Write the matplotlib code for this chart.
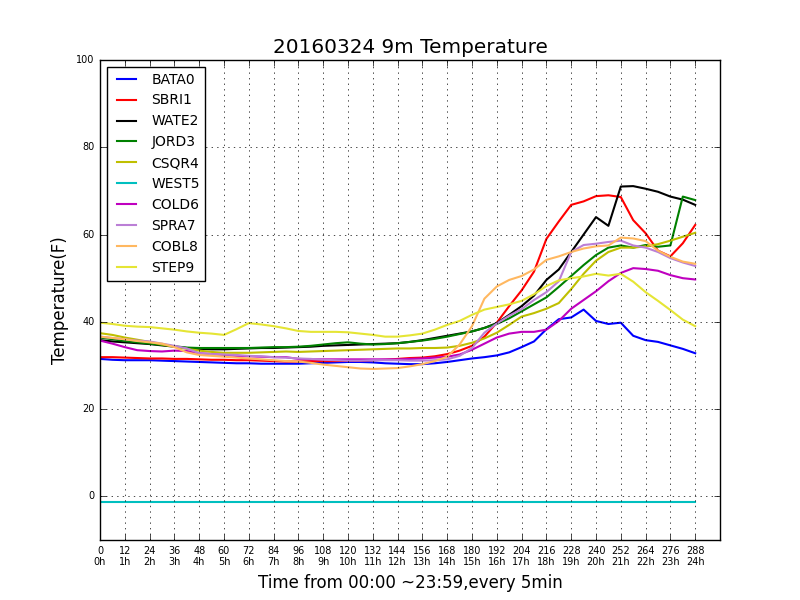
import matplotlib
matplotlib.use('Agg')
from matplotlib import pyplot as plt
import numpy as np

plt.style.use('classic')

# time index, every 30 min (6 x 5min samples)
t = np.arange(0, 289, 6)

bata0 = [31.5, 31.3, 31.2, 31.2, 31.2, 31.1, 31.0, 30.9, 30.8, 30.7, 30.6, 30.5, 30.5, 30.4, 30.4, 30.4, 30.4,
         30.5, 30.6, 30.7, 30.8, 30.8, 30.7, 30.5, 30.4, 30.3, 30.3, 30.5, 30.8, 31.2, 31.6, 31.9, 32.3,
         33.0, 34.2, 35.5, 38.3, 40.6, 41.0, 42.8, 40.2, 39.5, 39.8, 36.8, 35.8, 35.4, 34.6, 33.8, 32.8]
sbri1 = [31.9, 31.9, 31.8, 31.7, 31.6, 31.6, 31.5, 31.5, 31.4, 31.3, 31.3, 31.2, 31.2, 31.1, 31.0, 30.9, 30.9,
         31.0, 31.0, 31.0, 31.1, 31.1, 31.2, 31.3, 31.5, 31.7, 31.8, 32.1, 32.6, 33.4, 34.5, 36.6, 39.8,
         43.6, 47.2, 51.5, 59.0, 63.0, 66.8, 67.6, 68.8, 69.0, 68.6, 63.3, 60.3, 56.3, 55.0, 58.0, 62.2]
wate2 = [35.8, 35.5, 35.3, 35.1, 34.9, 34.6, 34.3, 34.0, 33.8, 33.7, 33.7, 33.8, 33.9, 34.0, 34.0, 34.1, 34.2,
         34.3, 34.5, 34.6, 34.7, 34.8, 34.9, 35.0, 35.1, 35.4, 35.8, 36.3, 36.8, 37.3, 37.8, 38.6, 39.7,
         41.6, 43.6, 46.0, 49.6, 52.0, 56.0, 60.0, 64.0, 62.0, 71.0, 71.1, 70.5, 69.8, 68.7, 68.0, 66.8]
jord3 = [36.4, 36.0, 35.6, 35.3, 35.0, 34.7, 34.4, 34.1, 34.0, 34.0, 34.0, 34.0, 34.0, 34.1, 34.2, 34.2, 34.3,
         34.5, 34.8, 35.1, 35.3, 35.0, 34.8, 34.9, 35.1, 35.4, 35.7, 36.1, 36.6, 37.2, 37.8, 38.6, 39.5,
         40.8, 42.4, 44.0, 45.6, 48.0, 50.5, 53.0, 55.3, 57.0, 57.5, 57.0, 57.6, 57.2, 57.5, 68.7, 67.9]
csqr4 = [37.4, 37.0, 36.4, 35.9, 35.4, 34.8, 34.3, 33.8, 33.4, 33.1, 32.9, 32.9, 32.9, 33.0, 33.1, 33.2, 33.1,
         33.2, 33.3, 33.4, 33.5, 33.6, 33.7, 33.8, 33.9, 33.9, 34.0, 34.0, 34.1, 34.5, 35.2, 36.2, 37.5,
         39.3, 41.2, 42.0, 43.0, 44.3, 47.5, 51.0, 54.0, 56.0, 57.0, 57.0, 57.3, 57.8, 58.6, 59.5, 60.4]
west5 = [-1.3, -1.3, -1.3, -1.3, -1.3, -1.3, -1.3, -1.3, -1.3, -1.3, -1.3, -1.3, -1.3, -1.3, -1.3, -1.3, -1.3,
         -1.3, -1.3, -1.3, -1.3, -1.3, -1.3, -1.3, -1.3, -1.3, -1.3, -1.3, -1.3, -1.3, -1.3, -1.3, -1.3,
         -1.3, -1.3, -1.3, -1.3, -1.3, -1.3, -1.3, -1.3, -1.3, -1.3, -1.3, -1.3, -1.3, -1.3, -1.3, -1.3]
cold6 = [35.7, 35.0, 34.2, 33.5, 33.3, 33.2, 33.4, 33.3, 32.8, 32.6, 32.4, 32.2, 32.1, 32.0, 31.9, 31.9, 31.5,
         31.4, 31.4, 31.4, 31.4, 31.4, 31.4, 31.4, 31.4, 31.5, 31.6, 31.8, 32.0, 32.5, 33.6, 35.0, 36.4,
         37.3, 37.7, 37.7, 38.2, 40.2, 43.0, 45.0, 47.0, 49.3, 51.2, 52.3, 52.1, 51.7, 50.7, 50.0, 49.7]
spra7 = [36.6, 36.3, 36.0, 35.7, 35.5, 35.0, 34.5, 33.9, 32.8, 32.6, 32.5, 32.4, 32.2, 32.1, 31.9, 31.8, 31.6,
         31.5, 31.3, 31.2, 31.1, 31.1, 31.2, 31.2, 31.2, 31.1, 31.1, 31.2, 31.4, 32.2, 34.0, 37.5, 39.6,
         41.4, 42.9, 45.0, 46.8, 49.3, 56.0, 57.6, 57.9, 58.3, 58.6, 57.5, 57.0, 56.0, 54.6, 53.6, 52.8]
cobl8 = [36.6, 36.3, 36.0, 35.6, 35.3, 35.0, 34.2, 33.0, 32.4, 32.2, 32.0, 31.8, 31.6, 31.4, 31.2, 31.0, 30.9,
         30.6, 30.2, 29.9, 29.6, 29.3, 29.2, 29.3, 29.4, 29.8, 30.3, 31.0, 32.0, 34.8, 39.0, 45.3, 48.1,
         49.6, 50.5, 52.0, 54.2, 55.0, 56.0, 56.8, 57.3, 57.5, 59.3, 59.1, 58.5, 56.3, 54.9, 53.8, 53.3]
step9 = [39.8, 39.5, 39.1, 38.9, 38.8, 38.5, 38.2, 37.8, 37.5, 37.3, 37.0, 38.3, 39.7, 39.4, 39.0, 38.5, 37.9,
         37.7, 37.7, 37.7, 37.6, 37.3, 37.0, 36.6, 36.6, 36.9, 37.3, 38.2, 39.3, 40.2, 41.6, 42.8, 43.4,
         44.0, 44.8, 46.3, 48.2, 49.5, 50.0, 50.4, 51.0, 50.6, 51.0, 49.2, 46.8, 44.8, 42.7, 40.5, 39.0]

names = ['BATA0', 'SBRI1', 'WATE2', 'JORD3', 'CSQR4', 'WEST5', 'COLD6', 'SPRA7', 'COBL8', 'STEP9']
series = [bata0, sbri1, wate2, jord3, csqr4, west5, cold6, spra7, cobl8, step9]
colors = ['b', 'r', 'k', 'g', 'y', 'c', 'm', '#bb7fd6', '#ffb860', '#e5e535']

xticks = list(range(0, 289, 12))
xlabels = ['%d\n%dh' % (v, v // 12) for v in xticks]

fig = plt.figure(figsize=(8, 6), dpi=100, facecolor='w')
ax = fig.add_axes([0.125, 0.1, 0.775, 0.8])

for name, s, c in zip(names, series, colors):
    ax.plot(t, s, color=c, lw=1.5, label=name)

ax.set_xlim(0, 300)
ax.set_ylim(-10, 100)
ax.set_xticks(xticks)
ax.set_xticklabels(xlabels, fontsize=7)
ax.set_yticks(range(0, 101, 20))
ax.tick_params(axis='y', labelsize=7)
ax.grid(True)
ax.set_title('20160324 9m Temperature', fontsize=14.4)
ax.set_xlabel('Time from 00:00 ~23:59,every 5min', fontsize=12)
ax.set_ylabel('Temperature(F)', fontsize=12)
ax.legend(loc='upper left', fontsize=10)

plt.savefig('out.png', dpi=100, facecolor='w')
